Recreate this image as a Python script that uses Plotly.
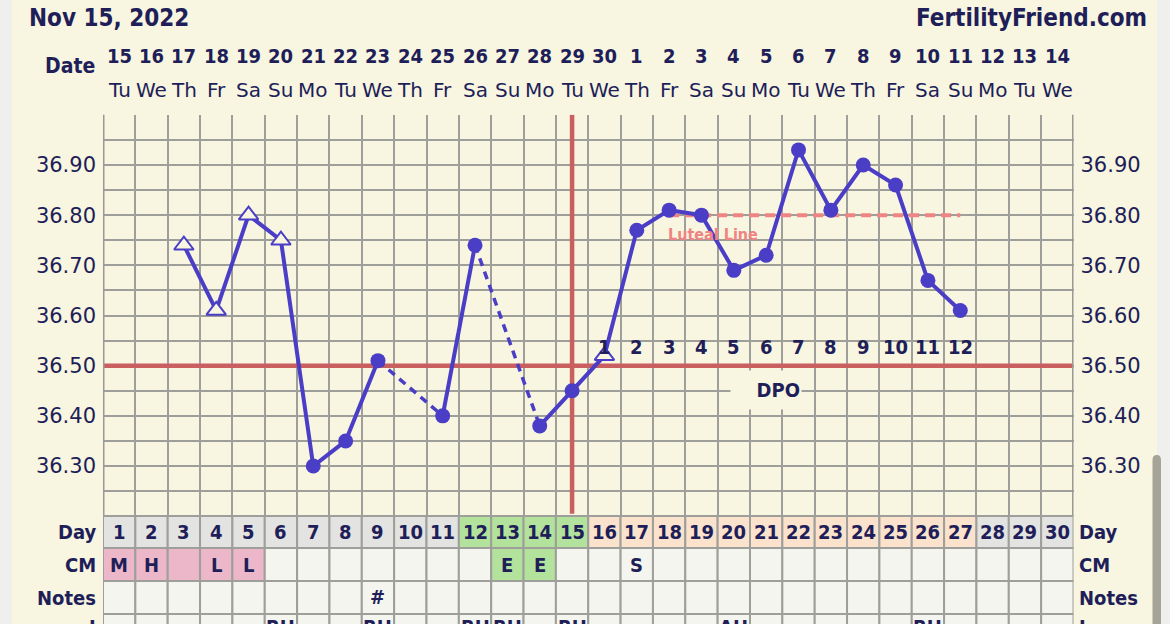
import plotly.graph_objects as go

# ---------------- data ----------------
days = list(range(1, 31))
dates = [15, 16, 17, 18, 19, 20, 21, 22, 23, 24, 25, 26, 27, 28, 29, 30,
         1, 2, 3, 4, 5, 6, 7, 8, 9, 10, 11, 12, 13, 14]
weekdays = ["Tu", "We", "Th", "Fr", "Sa", "Su", "Mo"] * 4 + ["Tu", "We"]
temps = [None, None, 36.74, 36.61, 36.80, 36.75, 36.30, 36.35, 36.51, None,
         36.40, 36.74, None, 36.38, 36.45, 36.52, 36.77, 36.81, 36.80, 36.69,
         36.72, 36.93, 36.81, 36.90, 36.86, 36.67, 36.61, None, None, None]
open_days = [3, 4, 5, 6, 16]
coverline = 36.50
ovulation_day = 15
dpo_labels = [str(i) for i in range(1, 13)]
dpo_days = list(range(16, 28))
luteal_temp = 36.80
luteal_days = [18, 27]
temp_labels = ["36.30", "36.40", "36.50", "36.60", "36.70", "36.80", "36.90"]
temp_label_vals = [36.30, 36.40, 36.50, 36.60, 36.70, 36.80, 36.90]

day_phase = ["base"] * 11 + ["fertile"] * 4 + ["luteal"] * 12 + ["base"] * 3
cm_values = ["M", "H", "", "L", "L", "", "", "", "", "", "", "", "E", "E", "",
             "", "S", "", "", "", "", "", "", "", "", "", "", "", "", ""]
cm_kind = ["menses"] * 5 + ["none"] * 7 + ["egg"] * 2 + ["none"] * 16
notes = [""] * 8 + ["#"] + [""] * 21
row4 = {6: "RH", 9: "RH", 12: "RH", 13: "RH", 15: "RH", 20: "AH", 26: "RH"}

# ---------------- style ----------------
W, H = 1170, 624
CREAM = "#f8f5e0"
NAVY = "#201e58"
BLUE = "#4a3ec6"
GRID = "#9e9e9a"
RED = "#c95f5f"
SALMON = "#f08482"
BOLD = "DejaVu Sans Condensed, DejaVu Sans, Verdana, sans-serif"
REG = "DejaVu Sans, Verdana, sans-serif"
PHASE_COL = {"base": "#e3e3e1", "fertile": "#b3e29c", "luteal": "#fbe2cc"}
CM_COL = {"menses": "#ecb8c9", "egg": "#b3e29c", "none": "#f5f5f0"}


def py(p):
    return 1 - p / H


Y_TOP, Y_BOT = 114.8, 516.2
ROWS = [516, 548, 581, 614, 647]

fig = go.Figure()

# luteal line
fig.add_trace(go.Scatter(x=luteal_days, y=[luteal_temp] * 2, mode="lines",
                         line=dict(color=SALMON, width=4, dash="10px,6px"),
                         hoverinfo="skip", showlegend=False))

# solid segments between consecutive days
fig.add_trace(go.Scatter(x=days, y=temps, mode="lines", connectgaps=False,
                         line=dict(color=BLUE, width=4), showlegend=False))

# dashed bridges over missing days
bx, by = [], []
valid = [(d, t) for d, t in zip(days, temps) if t is not None]
for (d0, t0), (d1, t1) in zip(valid[:-1], valid[1:]):
    if d1 - d0 > 1:
        bx += [d0, d1, None]
        by += [t0, t1, None]
fig.add_trace(go.Scatter(x=bx, y=by, mode="lines",
                         line=dict(color=BLUE, width=3.5, dash="8px,6px"),
                         showlegend=False))

# markers
cx = [d for d, t in zip(days, temps) if t is not None and d not in open_days]
cy = [t for d, t in zip(days, temps) if t is not None and d not in open_days]
fig.add_trace(go.Scatter(x=cx, y=cy, mode="markers",
                         marker=dict(symbol="circle", size=15, color=BLUE),
                         showlegend=False))
tx = [d for d, t in zip(days, temps) if t is not None and d in open_days]
ty = [t for d, t in zip(days, temps) if t is not None and d in open_days]
fig.add_trace(go.Scatter(x=tx, y=ty, mode="markers",
                         marker=dict(symbol="triangle-up", size=17, color=CREAM,
                                     line=dict(color=BLUE, width=2)),
                         showlegend=False))

# right-side axis anchor trace
fig.add_trace(go.Scatter(x=[ovulation_day], y=[coverline], yaxis="y2", mode="markers",
                         marker=dict(opacity=0), hoverinfo="skip", showlegend=False))

grid_vals = [round(36.25 + 0.05 * i, 2) for i in range(15)]
grid_text = []
for v in grid_vals:
    grid_text.append(temp_labels[temp_label_vals.index(v)] if v in temp_label_vals else "")

shapes = []
# outer strips and scrollbar
shapes.append(dict(type="rect", xref="paper", yref="paper", x0=0, x1=12 / W, y0=0, y1=1,
                   fillcolor="#efefee", line=dict(width=0), layer="below"))
shapes.append(dict(type="rect", xref="paper", yref="paper", x0=1157 / W, x1=1, y0=0, y1=1,
                   fillcolor="#efefee", line=dict(width=0), layer="below"))
x0s, x1s, xc = 1152.5 / W, 1161 / W, 1156.75 / W
yt, yb, r = py(455), 0, 5 / H
shapes.append(dict(type="path", xref="paper", yref="paper",
                   path=f"M {x0s},{yb} L {x0s},{yt - r} Q {x0s},{yt} {xc},{yt} Q {x1s},{yt} {x1s},{yt - r} L {x1s},{yb} Z",
                   fillcolor="#a6a498", line=dict(width=0)))

# plot borders
for xb in (0.5, 30.5):
    shapes.append(dict(type="line", xref="x", yref="paper", x0=xb, x1=xb,
                       y0=py(Y_BOT), y1=py(Y_TOP), line=dict(color="#999995", width=3)))
# coverline & ovulation line
shapes.append(dict(type="line", xref="x", yref="y", x0=0.5, x1=30.5, y0=coverline, y1=coverline,
                   line=dict(color=RED, width=4.5), layer="between"))
shapes.append(dict(type="line", xref="x", yref="y", x0=ovulation_day, x1=ovulation_day,
                   y0=36.205, y1=37.0, line=dict(color=RED, width=4.5), layer="between"))

# table cells
for i, d in enumerate(days):
    fills = [PHASE_COL[day_phase[i]], CM_COL[cm_kind[i]], "#f5f5f0", "#f5f5f0"]
    for k in range(4):
        shapes.append(dict(type="rect", xref="x", yref="paper", x0=d - 0.5, x1=d + 0.5,
                           y0=py(ROWS[k + 1]), y1=py(ROWS[k]), fillcolor=fills[k],
                           line=dict(color=GRID, width=2)))

ann = []


def txt(text, x, y, xref="x", yref="paper", size=20, family=BOLD, color=NAVY,
        xanchor="center", yanchor="middle", **kw):
    ann.append(dict(text=text, x=x, y=y, xref=xref, yref=yref, showarrow=False,
                    font=dict(size=size, family=family, color=color),
                    xanchor=xanchor, yanchor=yanchor, **kw))


txt("<b>Nov 15, 2022</b>", 27 / W, py(18), xref="paper", size=24, xanchor="left")
txt("<b>FertilityFriend.com</b>", 1149 / W, py(18), xref="paper", size=24, xanchor="right")
txt("<b>Date</b>", 97 / W, py(66), xref="paper", size=21, xanchor="right")
for d, dt, wd in zip(days, dates, weekdays):
    txt(f"<b>{dt}</b>", d, py(56), size=20)
    txt(wd, d, py(90), size=20, family=REG)

for k, lab in enumerate(["Day", "CM", "Notes", "I"]):
    yc = py((ROWS[k] + ROWS[k + 1]) / 2) if k < 3 else py(627)
    txt(f"<b>{lab}</b>", 98 / W, yc, xref="paper", size=20, xanchor="right")
    txt(f"<b>{lab}</b>", 1077 / W, yc, xref="paper", size=20, xanchor="left")

for i, d in enumerate(days):
    txt(f"<b>{d}</b>", d, py(532), size=20)
    if cm_values[i]:
        txt(f"<b>{cm_values[i]}</b>", d, py(565), size=20)
    if notes[i]:
        txt(f"<b>{notes[i]}</b>", d, py(597), size=20)
for d, s in row4.items():
    txt(f"<b>{s}</b>", d, py(627), size=20)

for d, lab in zip(dpo_days, dpo_labels):
    txt(f"<b>{lab}</b>", d, 36.537, yref="y", size=20)
txt("<b>DPO</b>", 21, 36.451, yref="y", size=20, bgcolor=CREAM, width=68, height=36,
    align="right")
txt("<b>Luteal Line</b>", 19.36, 36.762, yref="y", size=16, color=SALMON)

fig.update_layout(
    width=W, height=H, margin=dict(l=0, r=0, t=0, b=0, pad=0),
    paper_bgcolor=CREAM, plot_bgcolor=CREAM, showlegend=False,
    xaxis=dict(domain=[103 / W, 1073.5 / W], range=[0.5, 30.5],
               tickvals=[d + 0.5 for d in days[:-1]], showticklabels=False, ticks="",
               showgrid=True, gridcolor=GRID, gridwidth=2, zeroline=False, showline=False),
    yaxis=dict(domain=[py(Y_BOT), py(Y_TOP)], range=[36.2, 37.0],
               tickvals=grid_vals, ticktext=grid_text, ticks="",
               showgrid=True, gridcolor=GRID, gridwidth=2, zeroline=False, showline=False,
               tickfont=dict(family=REG, size=21, color=NAVY), ticklabelstandoff=6),
    yaxis2=dict(overlaying="y", side="right", range=[36.2, 37.0],
                tickvals=temp_label_vals, ticktext=temp_labels, ticks="",
                showgrid=False, zeroline=False, showline=False,
                tickfont=dict(family=REG, size=21, color=NAVY), ticklabelstandoff=6),
    shapes=shapes, annotations=ann,
)

fig.write_html("out.html", config={"displayModeBar": False},
               post_script="document.body.style.margin='0';document.body.style.overflow='hidden';")
